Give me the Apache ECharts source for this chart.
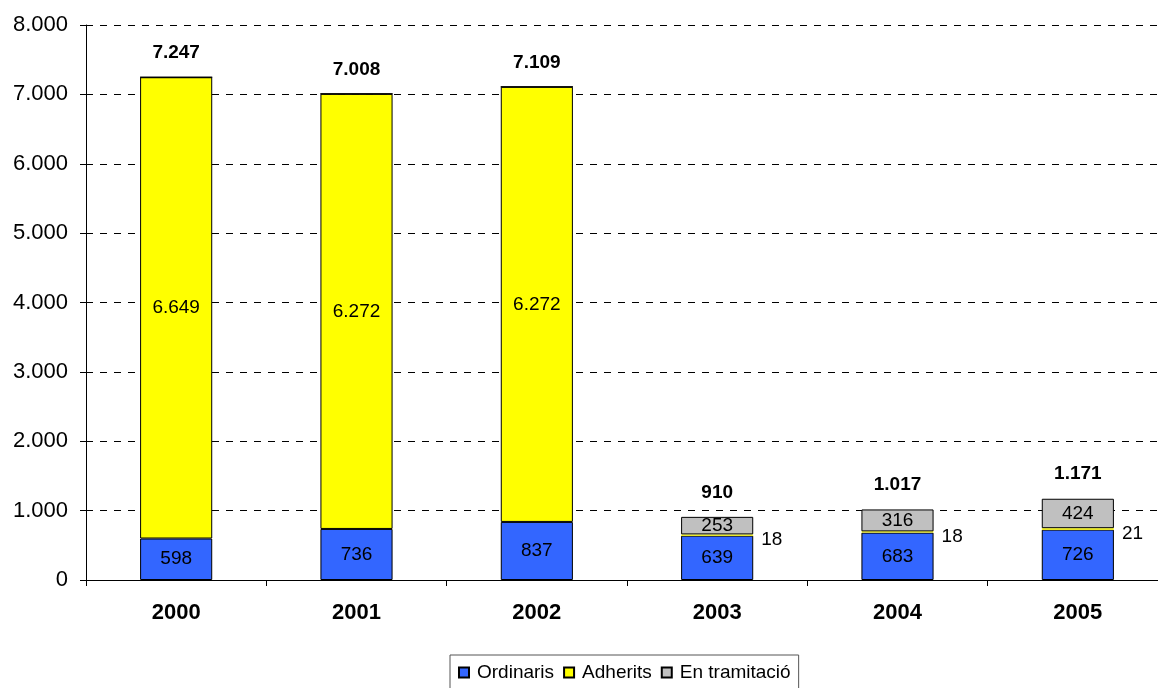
<!DOCTYPE html>
<html lang="ca">
<head>
<meta charset="UTF-8">
<title>Expedients</title>
<style>
    * { padding: 0; margin: 0; }
    .EC { width: 1158px; height: 688px; background: #fff; }
</style>
</head>
<body>
<div class="EC"></div>
<script src="https://cdn.jsdelivr.net/npm/echarts@6/dist/echarts.min.js"></script>
<script>
const years = ['2000', '2001', '2002', '2003', '2004', '2005']
const ordinaris = [598, 736, 837, 639, 683, 726]
const adherits = [6649, 6272, 6272, 18, 18, 21]
const tramitacio = [0, 0, 0, 253, 316, 424]
const totals = [7247, 7008, 7109, 910, 1017, 1171]
const yTicks = [0, 1000, 2000, 3000, 4000, 5000, 6000, 7000, 8000]

// format amb punt de milers
const fmt = v => String(v).replace(/\B(?=(\d{3})+(?!\d))/g, '.')
const FONT = 'Liberation Sans, Arial, sans-serif'

window.onload = () => {
    let EC = echarts.init(document.querySelector('.EC'))
    let border = { borderColor: '#000', borderWidth: 1 }
    let inLabel = {
        show: true,
        position: 'inside',
        color: '#000',
        fontSize: 19,
        fontFamily: FONT,
        formatter: p => fmt(p.value)
    }
    let option = {
        animation: false,
        backgroundColor: '#fff',
        // la graella surt una mica per la dreta
        grid: { left: 86, width: 1082, top: 25, height: 555, outerBoundsMode: 'none', containLabel: false },
        legend: {
            data: ['Ordinaris', 'Adherits', 'En tramitació'],
            top: 655,
            left: 450,
            padding: [8, 8, 10, 8],
            borderColor: '#555',
            borderWidth: 1,
            borderRadius: 0,
            itemWidth: 10,
            itemHeight: 10,
            itemGap: 9,
            icon: 'rect',
            textStyle: { fontSize: 19, fontFamily: FONT, color: '#000', padding: [0, 0, 0, 3] }
        },
        xAxis: {
            type: 'category',
            data: years,
            axisLine: { lineStyle: { color: '#000' } },
            axisTick: { show: true, length: 6, lineStyle: { color: '#000' } },
            axisLabel: { fontSize: 22, fontWeight: 'bold', fontFamily: FONT, color: '#000', margin: 22 }
        },
        yAxis: {
            type: 'value',
            min: yTicks[0],
            max: yTicks[yTicks.length - 1],
            interval: 1000,
            axisLine: { show: true, lineStyle: { color: '#000' } },
            axisTick: { show: true, length: 6, lineStyle: { color: '#000' } },
            splitLine: { lineStyle: { color: '#000', type: [7, 7] } },
            axisLabel: { fontSize: 22, fontFamily: FONT, color: '#000', margin: 18, formatter: v => fmt(v) }
        },
        series: [{
            name: 'Ordinaris',
            type: 'bar',
            stack: 't',
            barWidth: '40%',
            data: ordinaris,
            itemStyle: Object.assign({ color: '#3366FF' }, border),
            label: inLabel
        }, {
            name: 'Adherits',
            type: 'bar',
            stack: 't',
            data: adherits.map(v => v < 100 ? {
                value: v,
                itemStyle: { borderWidth: 0 },
                label: { position: 'right', distance: 8, offset: [0, 5] }
            } : v),
            itemStyle: Object.assign({ color: '#FFFF00' }, border),
            label: inLabel
        }, {
            name: 'En tramitació',
            type: 'bar',
            stack: 't',
            data: tramitacio,
            itemStyle: Object.assign({ color: '#C0C0C0' }, border),
            label: Object.assign({}, inLabel, { formatter: p => p.value ? fmt(p.value) : '' })
        }, {
            name: 'Total',
            type: 'bar',
            stack: 't',
            data: totals.map(() => 0),
            itemStyle: { color: 'transparent', borderWidth: 0 },
            label: {
                show: true,
                position: 'top',
                distance: 15,
                color: '#000',
                fontSize: 19,
                fontWeight: 'bold',
                fontFamily: FONT,
                formatter: p => fmt(totals[p.dataIndex])
            }
        }]
    }
    EC.setOption(option)
}
</script>
</body>
</html>
